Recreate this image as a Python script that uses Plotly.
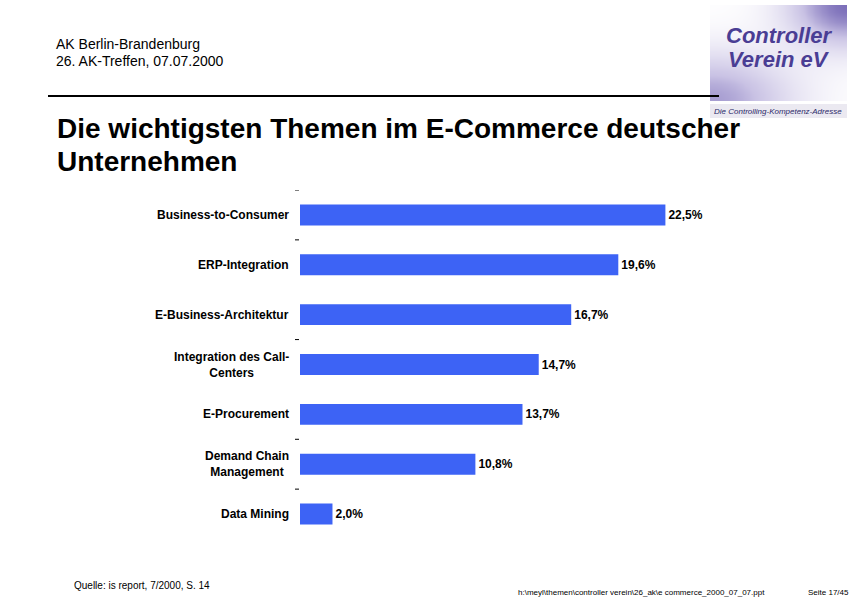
import numpy as np
import plotly.graph_objects as go

categories = ["Business-to-Consumer", "ERP-Integration", "E-Business-Architektur",
              "Integration des Call-<br>Centers", "E-Procurement",
              "Demand Chain<br>Management", "Data Mining"]
values = [22.5, 19.6, 16.7, 14.7, 13.7, 10.8, 2.0]
value_labels = ["22,5%", "19,6%", "16,7%", "14,7%", "13,7%", "10,8%", "2,0%"]
tick_dash_positions = [-0.5, 0.5, 2.5, 4.5, 5.5]

W, H = 855, 600
FONT = "Liberation Sans, Arial, sans-serif"
BAR = "#3d63f5"

fig = go.Figure()
fig.add_trace(go.Bar(
    x=values, y=list(range(len(categories))), orientation="h",
    marker=dict(color=BAR, line=dict(width=0)), width=0.42,
    text=value_labels, textposition="outside",
    textfont=dict(family=FONT, size=12, color="black", weight="bold"),
    cliponaxis=False, hoverinfo="skip", showlegend=False,
))

# logo gradient background
gu = np.linspace(0, 1, 40)
gv = np.linspace(0, 1, 30)
U, V = np.meshgrid(gu, gv)
Z = np.exp(-((1 - U) ** 2 + (1 - V) ** 2) / 0.18) + 0.75 * np.exp(-(U ** 2 + (V * 1.2) ** 2) / 0.35)
fig.add_trace(go.Heatmap(
    z=Z, x=gu, y=gv, xaxis="x2", yaxis="y2", zsmooth="best", showscale=False,
    colorscale=[[0, "#ffffff"], [0.5, "#c9c2e4"], [1, "#6b5db0"]], zmin=0, zmax=1.1,
    hoverinfo="skip",
))

fig.update_layout(
    width=W, height=H, margin=dict(l=0, r=0, t=0, b=0),
    paper_bgcolor="white", plot_bgcolor="white",
    xaxis=dict(domain=[300 / W, 706 / W], range=[0, 25], visible=False, fixedrange=True),
    yaxis=dict(domain=[1 - 539 / H, 1 - 190 / H], range=[6.5, -0.5], visible=False, fixedrange=True),
    xaxis2=dict(domain=[710 / W, 847 / W], range=[0, 1], visible=False),
    yaxis2=dict(domain=[1 - 101 / H, 1 - 5 / H], range=[0, 1], visible=False),
    font=dict(family=FONT),
)

ann = []
for i, c in enumerate(categories):
    ann.append(dict(x=291 / W, y=i, xref="paper", yref="y", text=c, showarrow=False,
                    xanchor="right", yanchor="middle", align="center",
                    font=dict(family=FONT, size=12, color="black", weight="bold")))

def txt(x, y, t, size, **kw):
    d = dict(x=x / W, y=1 - y / H, xref="paper", yref="paper", text=t, showarrow=False,
             xanchor="left", yanchor="middle", font=dict(family=FONT, size=size, color=kw.pop("color", "black")))
    d["font"].update(kw.pop("fontkw", {}))
    d.update(kw)
    return d

ann += [
    txt(54, 44, "AK Berlin-Brandenburg", 14),
    txt(54, 61, "26. AK-Treffen, 07.07.2000", 14),
    txt(55, 129, "Die wichtigsten Themen im E-Commerce deutscher", 28, fontkw=dict(weight="bold")),
    txt(55, 161, "Unternehmen", 28, fontkw=dict(weight="bold")),
    txt(72, 585, "Quelle: is report, 7/2000, S. 14", 10),
    txt(516, 592, "h:\\meyl\\themen\\controller verein\\26_ak\\e commerce_2000_07_07.ppt", 8),
    txt(806, 592, "Seite 17/45", 8),
    txt(779, 35, "Controller", 22, color="#4a3d94", xanchor="center",
        fontkw=dict(weight="bold", style="italic")),
    txt(779, 60, "Verein eV", 22, color="#4a3d94", xanchor="center",
        fontkw=dict(weight="bold", style="italic")),
    txt(778, 111, "Die Controlling-Kompetenz-Adresse", 8, color="#2c2a6a", xanchor="center",
        fontkw=dict(style="italic")),
]

shapes = [
    dict(type="rect", xref="paper", yref="paper", x0=710 / W, x1=847 / W,
         y0=1 - 118 / H, y1=1 - 104 / H, fillcolor="#ebe9f1", line=dict(width=0), layer="below"),
    dict(type="line", xref="paper", yref="paper", x0=48 / W, x1=719 / W,
         y0=1 - 96 / H, y1=1 - 96 / H, line=dict(color="black", width=2)),
]
for p in tick_dash_positions:
    shapes.append(dict(type="line", xref="paper", yref="y", x0=295 / W, x1=299 / W,
                       y0=p, y1=p, line=dict(color="black", width=1)))

fig.update_layout(annotations=ann, shapes=shapes)
fig.write_html("out.html")
